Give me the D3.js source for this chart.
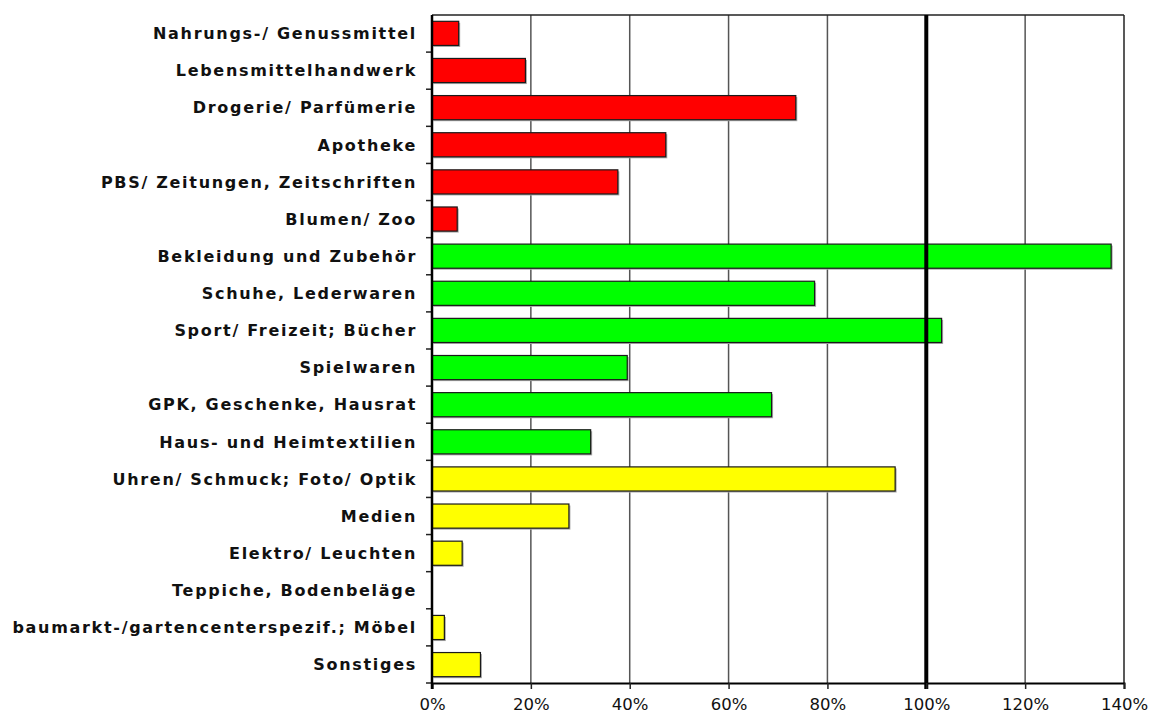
<!DOCTYPE html>
<html>
<head>
<meta charset="utf-8">
<script src="https://cdn.jsdelivr.net/npm/d3@7"></script>
<style>
	body { margin: 0; background: #fff; }
	.cat-label { font-family: "DejaVu Sans", Verdana, sans-serif; font-size: 16px; font-weight: bold; fill: #111; letter-spacing: 1.7px; }
	.x-label { font-family: "DejaVu Sans", Verdana, sans-serif; font-size: 16.5px; fill: #111; }
</style>
</head>
<body>
<div id="chart"></div>
<script>
	// categories, top to bottom
	var categories = [
		"Nahrungs-/ Genussmittel", "Lebensmittelhandwerk", "Drogerie/ Parfümerie", "Apotheke",
		"PBS/ Zeitungen, Zeitschriften", "Blumen/ Zoo", "Bekleidung und Zubehör", "Schuhe, Lederwaren",
		"Sport/ Freizeit; Bücher", "Spielwaren", "GPK, Geschenke, Hausrat", "Haus- und Heimtextilien",
		"Uhren/ Schmuck; Foto/ Optik", "Medien", "Elektro/ Leuchten", "Teppiche, Bodenbeläge",
		"baumarkt-/gartencenterspezif.; Möbel", "Sonstiges"
	];
	// percent values
	var values = [5.4, 18.9, 73.6, 47.3, 37.6, 5.1, 137.4, 77.4, 103.1, 39.5, 68.7, 32.1, 93.7, 27.7, 6.1, 0, 2.5, 9.8];
	// group of each category
	var groups = ["a", "a", "a", "a", "a", "a", "b", "b", "b", "b", "b", "b", "c", "c", "c", "c", "c", "c"];
	var groupColors = { a: "#ff0000", b: "#00ff00", c: "#ffff00" };
	var xTicks = [0, 20, 40, 60, 80, 100, 120, 140];

	var W = 1153, H = 717,
		margin = { top: 15, right: 29, bottom: 34, left: 432 },
		width = W - margin.left - margin.right,
		height = H - margin.top - margin.bottom;

	var svg = d3.select("#chart").append("svg")
		.attr("width", W)
		.attr("height", H);

	var g = svg.append("g")
		.attr("transform", "translate(" + margin.left + "," + margin.top + ")");

	var x = d3.scaleLinear().domain([0, 140]).range([0, width]);
	var y = d3.scaleBand().domain(categories).range([0, height]).paddingInner(0.35).paddingOuter(0.17);

	//------------- grid
	g.selectAll(".grid")
		.data(xTicks.filter(d => d > 0 && d !== 100))
		.enter()
			.append("line")
			.attr("x1", d => x(d)).attr("x2", d => x(d))
			.attr("y1", 0).attr("y2", height)
			.attr("stroke", d => d === 140 ? "#222" : "#555")
			.attr("stroke-width", 1.5);

	// top border
	g.append("line")
		.attr("x1", 0).attr("x2", width)
		.attr("y1", 0).attr("y2", 0)
		.attr("stroke", "#222")
		.attr("stroke-width", 1.5);

	//------------- bars
	var rows = categories.map((c, i) => ({ cat: c, val: values[i], grp: groups[i] }))
		.filter(d => d.val > 0);

	g.selectAll(".shadow")
		.data(rows)
		.enter()
			.append("rect")
			.attr("x", 1.5)
			.attr("y", d => y(d.cat) + 1.5)
			.attr("width", d => x(d.val))
			.attr("height", y.bandwidth())
			.attr("fill", "#aaa");

	g.selectAll(".bar")
		.data(rows)
		.enter()
			.append("rect")
			.attr("x", 0)
			.attr("y", d => y(d.cat))
			.attr("width", d => x(d.val))
			.attr("height", y.bandwidth())
			.attr("fill", d => groupColors[d.grp])
			.attr("stroke", "#1a1a1a")
			.attr("stroke-width", 1.2);

	// 100% line
	g.append("line")
		.attr("x1", x(100)).attr("x2", x(100))
		.attr("y1", 0).attr("y2", height + 6)
		.attr("stroke", "#000")
		.attr("stroke-width", 4);

	//------------- axes
	var xAxis = g.append("g")
		.attr("transform", "translate(0," + height + ")")
		.call(d3.axisBottom(x).tickValues(xTicks).tickFormat(d => d + "%").tickSize(6).tickPadding(9));
	xAxis.select(".domain").attr("stroke", "#000").attr("stroke-width", 2);
	xAxis.selectAll(".tick line").attr("stroke", "#222").attr("stroke-width", 1.5);
	xAxis.selectAll("text").attr("class", "x-label").attr("fill", "#111");

	// category ticks at band boundaries
	var bounds = d3.range(categories.length + 1).map(i => i * (height / categories.length));
	g.selectAll(".ytick")
		.data(bounds.slice(1))
		.enter()
			.append("line")
			.attr("x1", -6).attr("x2", 0)
			.attr("y1", d => d).attr("y2", d => d)
			.attr("stroke", "#222")
			.attr("stroke-width", 1.5);

	g.append("line")
		.attr("x1", 0).attr("x2", 0)
		.attr("y1", 0).attr("y2", height + 6)
		.attr("stroke", "#000")
		.attr("stroke-width", 2.5);

	g.selectAll(".cat-label")
		.data(categories)
		.enter()
			.append("text")
			.attr("class", "cat-label")
			.attr("x", -15)
			.attr("y", d => y(d) + y.bandwidth() / 2)
			.attr("dy", "0.36em")
			.attr("text-anchor", "end")
			.text(d => d);
</script>
</body>
</html>
